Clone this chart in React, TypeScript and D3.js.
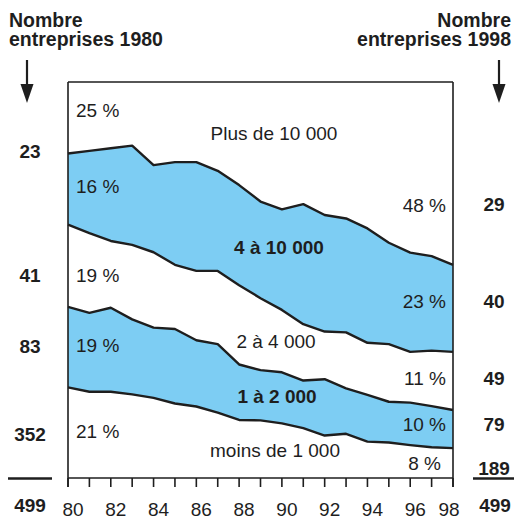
import React from 'react';
import * as d3 from 'd3';

// shares (%) of each size class, 1980 -> 1998
const years = [1980, 1981, 1982, 1983, 1984, 1985, 1986, 1987, 1988, 1989, 1990, 1991, 1992, 1993, 1994, 1995, 1996, 1997, 1998];
const moins1000 = [20.9, 19.9, 19.9, 19.3, 18.5, 17.2, 16.5, 15.1, 13.4, 13.3, 12.6, 11.5, 9.8, 10.2, 8.4, 8.2, 7.6, 7.1, 6.9];
const de1a2000 = [18.6, 18.2, 19.4, 17.3, 16.2, 17.2, 15.3, 15.8, 12.8, 11.6, 11.8, 11.0, 13.0, 10.5, 10.8, 9.4, 9.8, 9.5, 8.8];
const de2a4000 = [19.0, 18.4, 15.4, 17.2, 17.4, 14.8, 16.0, 16.9, 18.3, 16.6, 14.4, 13.0, 11.0, 12.9, 12.0, 13.3, 11.7, 12.8, 13.4];
const de4a10000 = [16.4, 19.0, 21.4, 22.9, 20.1, 23.7, 25.1, 23.1, 23.1, 22.3, 23.2, 27.7, 26.9, 26.3, 26.4, 23.4, 22.9, 21.8, 20.1];
const plus10000 = [25.1, 24.5, 23.9, 23.3, 27.8, 27.1, 27.1, 29.1, 32.4, 36.2, 38.0, 36.8, 39.3, 40.1, 42.4, 45.7, 48.0, 48.8, 50.8];

const keys = ['moins', 'un', 'deux', 'quatre', 'plus'];
const yearLabels = [1980, 1982, 1984, 1986, 1988, 1990, 1992, 1994, 1996, 1998];

const left1980 = ['23', '41', '83', '352'];
const right1998 = ['29', '40', '49', '79', '189'];
const total = '499';

const W = 517;
const H = 519;
const BLUE = '#7dcdf3';
const INK = '#1e1e1e';
const FONT = '"Liberation Sans", Arial, Helvetica, sans-serif';

export default function App() {
  const rows = years.map((yr, i) => ({
    year: yr,
    moins: moins1000[i],
    un: de1a2000[i],
    deux: de2a4000[i],
    quatre: de4a10000[i],
    plus: plus10000[i],
  }));
  const series = d3.stack<any>().keys(keys)(rows);

  const x = d3.scaleLinear().domain([1980, 1998]).range([68, 453]);
  const y = d3.scaleLinear().domain([0, 100]).range([478, 44.7]);
  const top = 82;

  const area = d3.area<any>()
    .x(d => x(d.data.year))
    .y0(d => y(d[0]))
    .y1(d => y(d[1]));
  const line = d3.line<any>()
    .x(d => x(d.data.year))
    .y(d => y(d[1]));

  // left/right count labels sit at these heights
  const leftY = [158, 281.5, 352.5, 440.5];
  const rightY = [210.5, 307.5, 385, 430.5, 475];

  return (
    <svg width={W} height={H} style={{ position: 'absolute', left: 0, top: 0 }} fontFamily={FONT}>
      {/* blue bands */}
      {[1, 3].map(i => (
        <path key={i} d={area(series[i] as any) || ''} fill={BLUE} />
      ))}
      {/* boundaries */}
      {[0, 1, 2, 3].map(i => (
        <path key={'l' + i} d={line(series[i] as any) || ''} fill="none" stroke={INK} strokeWidth={2.4} strokeLinejoin="round" />
      ))}

      {/* frame */}
      <g stroke={INK} strokeWidth={1.6} fill="none">
        <line x1={x(1980)} y1={top} x2={x(1998)} y2={top} />
        <line x1={x(1980)} y1={top} x2={x(1980)} y2={y(0) + 9} />
        <line x1={x(1998)} y1={top} x2={x(1998)} y2={y(0) + 9} />
        <line x1={x(1980)} y1={y(0)} x2={x(1998)} y2={y(0)} />
        {years.map(yr => (
          <line key={yr} x1={x(yr)} y1={y(0)} x2={x(yr)} y2={y(0) + 9} />
        ))}
      </g>
      <g fontSize={19} fill={INK} textAnchor="middle">
        {yearLabels.map(yr => (
          <text key={yr} x={x(yr) + (yr === 1998 ? -4 : 5)} y={516}>{String(yr % 100).padStart(2, '0')}</text>
        ))}
      </g>

      {/* band labels */}
      <g fontSize={19} fill={INK}>
        <text x={76} y={117}>25 %</text>
        <text x={76} y={193}>16 %</text>
        <text x={76} y={281.5}>19 %</text>
        <text x={76} y={352}>19 %</text>
        <text x={76} y={438}>21 %</text>
        <g textAnchor="end">
          <text x={446} y={212}>48 %</text>
          <text x={446} y={308}>23 %</text>
          <text x={446} y={385}>11 %</text>
          <text x={446} y={430.5}>10 %</text>
          <text x={441} y={470}>8 %</text>
        </g>
        <g textAnchor="middle">
          <text x={274} y={140}>Plus de 10 000</text>
          <text x={276} y={347.5}>2 à 4 000</text>
          <text x={275} y={456.5}>moins de 1 000</text>
          <text x={279} y={254} fontWeight="bold">4 à 10 000</text>
          <text x={277} y={403} fontWeight="bold">1 à 2 000</text>
        </g>
      </g>

      {/* side titles, two lines each */}
      <g fontSize={19.5} fontWeight="bold" fill={INK}>
        <text x={9} y={27}>
          <tspan x={9}>Nombre</tspan>
          <tspan x={9} dy={19}>entreprises 1980</tspan>
        </text>
        <text x={511} y={27} textAnchor="end">
          <tspan x={511}>Nombre</tspan>
          <tspan x={511} dy={19}>entreprises 1998</tspan>
        </text>
      </g>

      {/* arrows */}
      {[27, 499].map(ax => (
        <g key={ax} fill={INK} stroke={INK}>
          <line x1={ax} y1={60} x2={ax} y2={88} strokeWidth={2.2} />
          <path d={`M${ax - 6.5},84 L${ax + 6.5},84 L${ax},103 Z`} stroke="none" />
        </g>
      ))}

      {/* counts */}
      <g fontSize={19} fontWeight="bold" fill={INK} textAnchor="middle">
        {left1980.map((t, i) => (
          <text key={'a' + i} x={30} y={leftY[i]}>{t}</text>
        ))}
        {right1998.map((t, i) => (
          <text key={'b' + i} x={494} y={rightY[i]}>{t}</text>
        ))}
        <text x={30} y={511.5}>{total}</text>
        <text x={495} y={511.5}>{total}</text>
      </g>
      <g stroke={INK} strokeWidth={2.4}>
        <line x1={8} y1={478.5} x2={52} y2={478.5} />
        <line x1={473} y1={478.5} x2={514} y2={478.5} />
      </g>
    </svg>
  );
}
